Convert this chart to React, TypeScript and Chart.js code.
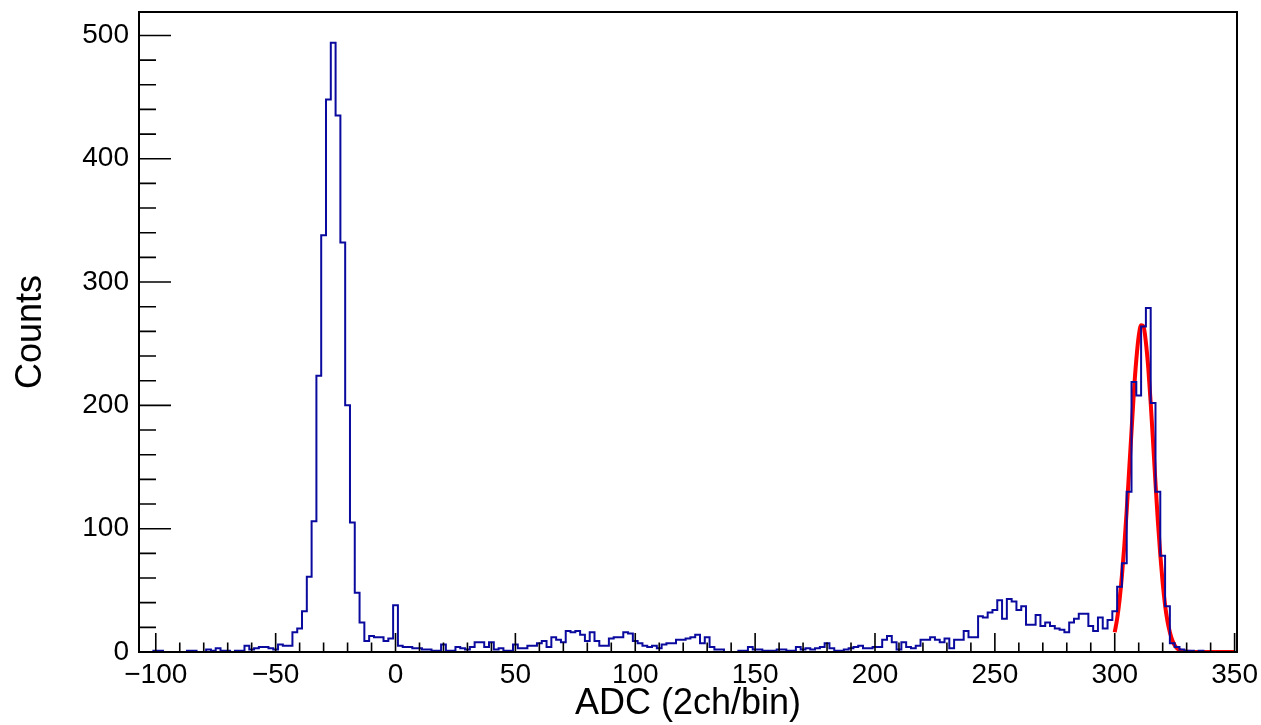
import React, { useEffect, useRef } from "react";
import { Chart, registerables } from "chart.js";

Chart.register(...registerables);

// Histogram: ADC spectrum, 2 channels per bin, first bin low edge -107
const binLowEdge = -107;
const binWidth = 2;
const counts: number[] = [
  0, 0, 0, 1, 1, 0, 0, 0, 0, 0, // -107 .. -89
  1, 1, 0, 0, 2, 1, 3, 1, 1, 0, // -87 .. -69
  1, 1, 5, 2, 3, 4, 4, 3, 2, 6, // -67 .. -49
  5, 5, 16, 19, 33, 61, 106, 224, 338, 448, // -47 .. -29
  494, 435, 332, 200, 105, 48, 24, 9, 13, 12, // -27 .. -9
  12, 9, 11, 38, 5, 4, 4, 3, 3, 2, // -7 .. 11
  2, 1, 1, 6, 1, 1, 4, 3, 2, 4, // 13 .. 31
  8, 8, 4, 8, 2, 3, 1, 1, 6, 3, // 33 .. 51
  3, 5, 5, 7, 9, 4, 12, 10, 8, 17, // 53 .. 71
  16, 17, 14, 9, 16, 9, 5, 5, 11, 12, // 73 .. 91
  12, 16, 15, 9, 7, 5, 4, 5, 3, 6, // 93 .. 111
  7, 7, 10, 10, 11, 12, 14, 7, 12, 4, // 113 .. 131
  2, 2, 0, 0, 0, 1, 1, 4, 2, 2, // 133 .. 151
  1, 1, 1, 2, 2, 1, 1, 4, 2, 3, // 153 .. 171
  2, 3, 4, 7, 3, 1, 1, 2, 3, 4, // 173 .. 191
  5, 3, 3, 4, 4, 10, 13, 8, 2, 8, // 193 .. 211
  4, 3, 5, 10, 10, 12, 10, 8, 11, 3, // 213 .. 231
  10, 10, 17, 12, 12, 29, 28, 32, 34, 42, // 233 .. 251
  27, 43, 41, 34, 37, 22, 22, 30, 21, 24, // 253 .. 271
  21, 19, 18, 16, 24, 27, 31, 31, 21, 17, // 273 .. 291
  28, 19, 26, 33, 53, 72, 130, 219, 208, 264, // 293 .. 311
  279, 202, 130, 78, 37, 7, 4, 2, 1, 1, // 313 .. 331
  0, 1, 0, 0, 0, 0, 0, 0, 0, // 333 .. 349
];

// Gaussian fit curve (red line), range 300..350
const fitX: number[] = [
  300, 301, 302, 303, 304, 305, 306, 307, 308, 309, 310, 311, 312, 313, 314,
  315, 316, 317, 318, 319, 320, 321, 322, 323, 324, 325, 326, 327, 328, 330,
  335, 340, 345, 350,
];
const fitY: number[] = [
  16, 27, 42, 62, 86, 115, 147, 179, 211, 237, 256, 265, 264, 251, 230,
  202, 170, 137, 106, 79, 56, 38, 25, 16, 9.5, 5.5, 3, 1.6, 0.8, 0.2,
  0, 0, 0, 0,
];

const xMin = -107;
const xMax = 351;
const yMin = 0;
const yMax = 519;

const FONT = "'Liberation Sans', Arial, Helvetica, sans-serif";

const frameAndTicks = {
  id: "frameAndTicks",
  afterDatasetsDraw(chart: any) {
    const { ctx, chartArea, scales } = chart;
    const { left, right, top, bottom } = chartArea;
    const x = scales.x;
    const y = scales.y;
    ctx.save();
    ctx.strokeStyle = "#000";
    ctx.lineWidth = 1.6;
    ctx.beginPath();
    const xt = x.ticks.map((t: any) => t.value);
    const xStep = xt.length > 1 ? xt[1] - xt[0] : 50;
    const xMinor = xStep / 5;
    for (let v = xt[0] - xStep; v <= xt[xt.length - 1] + xStep; v += xMinor) {
      if (v < x.min || v > x.max) continue;
      const px = x.getPixelForValue(v);
      const major = Math.abs(((v - xt[0]) / xStep) - Math.round((v - xt[0]) / xStep)) < 1e-6;
      const len = major ? 19 : 9.5;
      ctx.moveTo(px, bottom);
      ctx.lineTo(px, bottom - len);
    }
    const yt = y.ticks.map((t: any) => t.value);
    const yStep = yt.length > 1 ? yt[1] - yt[0] : 100;
    const yMinor = yStep / 5;
    for (let v = yt[0]; v <= y.max; v += yMinor) {
      const py = y.getPixelForValue(v);
      const major = Math.abs(((v - yt[0]) / yStep) - Math.round((v - yt[0]) / yStep)) < 1e-6;
      const len = major ? 32 : 17;
      ctx.moveTo(left, py);
      ctx.lineTo(left + len, py);
    }
    ctx.stroke();
    ctx.lineWidth = 2;
    ctx.strokeRect(left, top, right - left, bottom - top);
    ctx.restore();
  },
};

export default function App() {
  const canvasRef = useRef<HTMLCanvasElement | null>(null);

  useEffect(() => {
    if (!canvasRef.current) return;
    const histPoints = counts.map((c, i) => ({ x: binLowEdge + i * binWidth, y: c }));
    histPoints.push({
      x: binLowEdge + counts.length * binWidth,
      y: counts[counts.length - 1],
    });
    const fitPoints = fitX.map((xv, i) => ({ x: xv, y: fitY[i] }));

    const chart = new Chart(canvasRef.current, {
      type: "line",
      data: {
        datasets: [
          {
            label: "ADC",
            data: histPoints,
            stepped: "before",
            borderColor: "#0a0a9e",
            borderWidth: 2,
            pointRadius: 0,
            fill: false,
          },
          {
            label: "fit",
            data: fitPoints,
            borderColor: "#ff0000",
            borderWidth: 4,
            pointRadius: 0,
            fill: false,
            tension: 0.4,
            cubicInterpolationMode: "monotone",
          },
        ],
      },
      options: {
        responsive: false,
        animation: false,
        events: [],
        layout: { padding: { top: 12, right: 24, left: 0, bottom: 0 } },
        plugins: {
          legend: { display: false },
          tooltip: { enabled: false },
        },
        scales: {
          x: {
            type: "linear",
            min: xMin,
            max: xMax,
            grid: { display: false, drawTicks: false },
            border: { display: false },
            afterFit: (scale: any) => {
              scale.height = 73;
              scale.paddingLeft = 0;
              scale.paddingRight = 0;
            },
            ticks: {
              stepSize: 50,
              includeBounds: false,
              autoSkip: false,
              maxRotation: 0,
              padding: 6,
              color: "#000",
              font: { family: FONT, size: 28 },
              callback: (v: any) => String(v).replace("-", "\u2212"),
            },
            title: {
              display: true,
              text: "ADC (2ch/bin)",
              color: "#000",
              font: { family: FONT, size: 36, lineHeight: 1 },
              padding: { top: 0, bottom: 3 },
            },
          },
          y: {
            type: "linear",
            min: yMin,
            max: yMax,
            grid: { display: false, drawTicks: false },
            border: { display: false },
            afterFit: (scale: any) => {
              scale.width = 139;
              scale.paddingTop = 0;
              scale.paddingBottom = 0;
            },
            ticks: {
              stepSize: 100,
              includeBounds: false,
              padding: 10,
              color: "#000",
              font: { family: FONT, size: 28 },
            },
            title: {
              display: true,
              text: "Counts",
              color: "#000",
              font: { family: FONT, size: 36, lineHeight: 1 },
              padding: { top: 13, bottom: 0 },
            },
          },
        },
      },
      plugins: [frameAndTicks],
    });
    return () => chart.destroy();
  }, []);

  return (
    <div style={{ position: "fixed", left: 0, top: 0, width: 1261, height: 725, background: "#fff" }}>
      <canvas ref={canvasRef} width={1261} height={725} style={{ display: "block" }} />
    </div>
  );
}
